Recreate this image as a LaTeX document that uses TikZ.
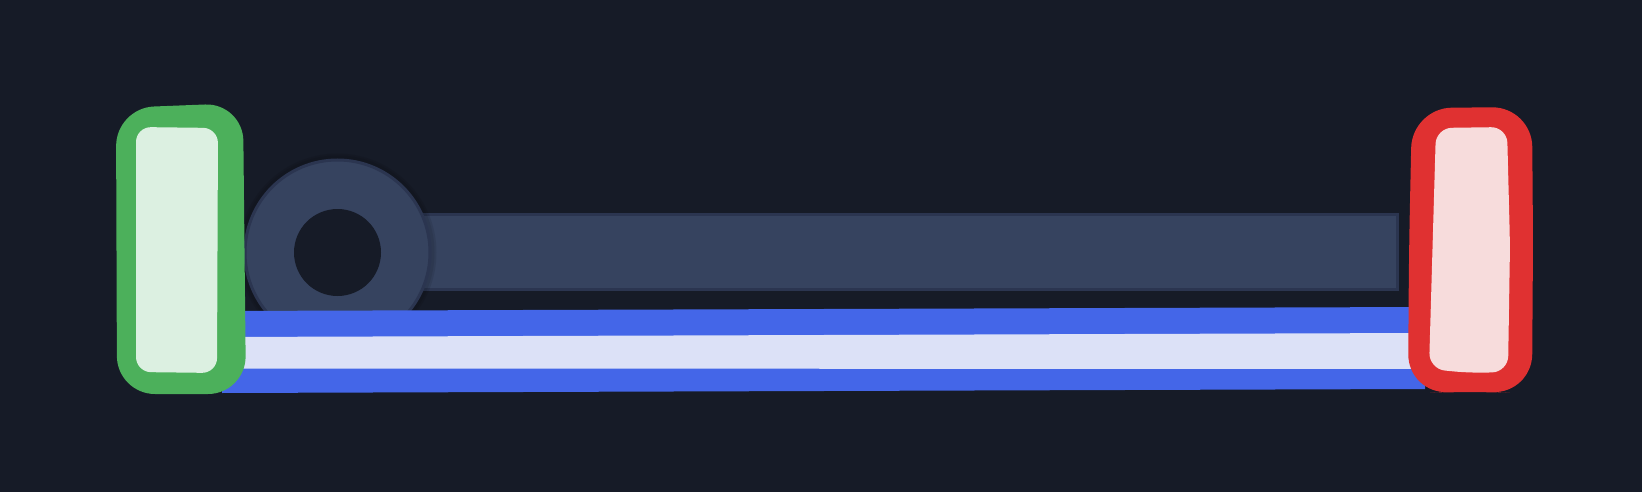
\documentclass[tikz,border=0pt]{standalone}
\usepackage{tikz}
\definecolor{bgc}{HTML}{161B27}
\definecolor{barc}{HTML}{36435F}
\definecolor{barb}{HTML}{2B3550}
\definecolor{bluec}{HTML}{4466E8}
\definecolor{bluel}{HTML}{DCE1F7}
\definecolor{greens}{HTML}{4CB05B}
\definecolor{greenf}{HTML}{DCF0E1}
\definecolor{reds}{HTML}{E03131}
\definecolor{redf}{HTML}{F7DCDC}
\tikzset{
  barshape/.style={fill=barc, draw=barb, line width=3pt},
  wheelshape/.style={fill=barc, draw=barb, line width=3pt},
  holeshape/.style={fill=bgc},
  bandouter/.style={fill=bluec},
  bandinner/.style={fill=bluel},
  greenouter/.style={fill=greens, rounded corners=38pt},
  greeninner/.style={fill=greenf, rounded corners=15pt},
  redouter/.style={fill=reds, rounded corners=40pt},
  redinner/.style={fill=redf, rounded corners=16pt},
}
\begin{document}
\begin{tikzpicture}[x=1pt,y=-1pt]
\fill[bgc] (0,0) rectangle (1642,492);
\useasboundingbox (0,0) rectangle (1642,492);
% rail
\draw[barshape] (420,214.5) rectangle (1397.5,289.5);
% shadow of wheel
\fill[black, opacity=0.08] (337.5,252.5) circle (99);
\fill[black, opacity=0.08] (337.5,252.5) circle (97);
% wheel
\draw[wheelshape] (337.5,252.5) circle (92.5);
\fill[holeshape] (337.5,252.5) circle (43.5);
% band
\fill[bandouter] (222,311) -- (1425,307) -- (1425,389) -- (222,393) -- cycle;
\fill[bandinner] (222,337) -- (1425,333) -- (1425,369) -- (222,368.5) -- cycle;
% green box
\fill[greenouter] (116,108) -- (243,103) -- (246,394) -- (117,394) -- cycle;
\fill[greeninner] (136,127) -- (218,128) -- (217,373) -- (136,372) -- cycle;
% red box
\fill[redouter] (1412,108) -- (1532,107) -- (1533,240) -- (1532,394) -- (1470,391) -- (1408,394) -- (1409,250) -- cycle;
\fill[redinner] (1436,128) -- (1507,127) -- (1510,245) -- (1508,372) -- (1470,373) -- (1429,369) -- cycle;
\end{tikzpicture}
\end{document}
